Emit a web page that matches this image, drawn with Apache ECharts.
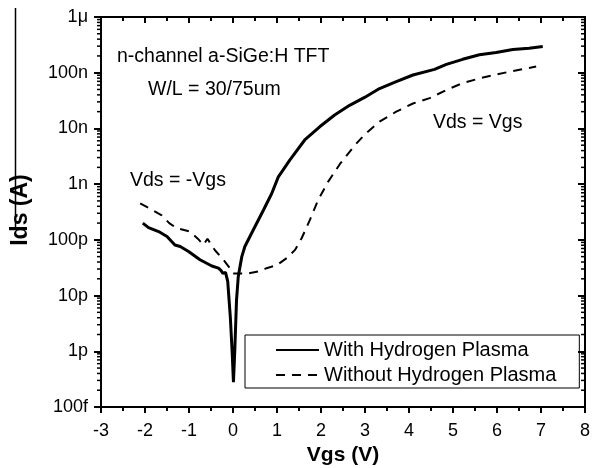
<!DOCTYPE html>
<html>
<head>
<meta charset="utf-8">
<script src="https://cdn.jsdelivr.net/npm/echarts@6/dist/echarts.min.js"></script>
<style>html,body{margin:0;padding:0;background:#fff}#main{width:601px;height:468px}</style>
</head>
<body>
<div id="main"></div>
<script>
// Vgs (V) and Ids (A)
const solidVgs = [-2.05,-1.92,-1.69,-1.50,-1.32,-1.20,-1.01,-0.75,-0.48,-0.33,-0.27,-0.23,-0.17,-0.12,-0.06,-0.02,0.01,0.04,0.08,0.12,0.20,0.27,0.46,0.69,0.88,1.03,1.14,1.29,1.63,1.97,2.31,2.65,2.99,3.33,3.71,4.09,4.58,4.85,5.22,5.60,5.98,6.36,6.73,7.04];
const solidIds = [2.0e-10,1.66e-10,1.41e-10,1.15e-10,8.1e-11,7.6e-11,6.2e-11,4.4e-11,3.4e-11,3.1e-11,2.8e-11,2.5e-11,2.6e-11,1.8e-11,4.0e-12,1.0e-12,2.8e-13,1.0e-12,8.3e-12,2.2e-11,5.0e-11,7.6e-11,1.5e-10,3.4e-10,6.8e-10,1.35e-9,1.8e-9,2.7e-9,6.2e-9,1.07e-8,1.74e-8,2.6e-8,3.6e-8,5.2e-8,6.9e-8,9.1e-8,1.15e-7,1.41e-7,1.74e-7,2.1e-7,2.3e-7,2.6e-7,2.75e-7,2.95e-7];
const dashVgs = [-2.11,-1.85,-1.62,-1.45,-1.28,-0.98,-0.80,-0.67,-0.58,-0.50,-0.41,-0.22,-0.07,0.00,0.23,0.35,0.61,0.76,0.99,1.22,1.41,1.56,1.75,1.93,2.16,2.43,2.77,3.00,3.33,3.71,4.09,4.47,4.85,5.22,5.60,5.98,6.36,6.89];
const dashIds = [4.5e-10,3.5e-10,2.75e-10,2.0e-10,1.62e-10,1.41e-10,1.05e-10,8.1e-11,1.05e-10,8.3e-11,6.5e-11,4.4e-11,3.1e-11,2.5e-11,2.5e-11,2.5e-11,2.75e-11,3.1e-11,3.5e-11,4.7e-11,6.6e-11,1.07e-10,2.3e-10,5.1e-10,1.1e-9,2.3e-9,5.0e-9,7.9e-9,1.32e-8,2.0e-8,2.8e-8,3.5e-8,4.9e-8,6.5e-8,7.9e-8,9.3e-8,1.07e-7,1.29e-7];
const seriesNames = ['With Hydrogen Plasma','Without Hydrogen Plasma'];
const yTickLabels = {'-13':'100f','-12':'1p','-11':'10p','-10':'100p','-9':'1n','-8':'10n','-7':'100n','-6':'1μ'};
const decadeExps = [-13,-12,-11,-10,-9,-8,-7];
const minorMultipliers = [2,3,4,5,6,7,8,9];
const xMin = -3, xMax = 8;

const minorVals = [];
decadeExps.forEach(e => minorMultipliers.forEach(m => minorVals.push([xMin, m * Math.pow(10, e)])));

const FONT = 'Liberation Sans';
const black = '#000';

function lineStyle(w) { return { color: black, width: w }; }
function xAxisCfg(pos, inside) {
  return {
    type: 'value', position: pos, min: xMin, max: xMax, interval: 1,
    axisLine: { show: true, onZero: false, lineStyle: lineStyle(2) },
    axisTick: { show: true, inside: inside, length: 6, lineStyle: lineStyle(2) },
    minorTick: { show: true, splitNumber: 2, length: 4, lineStyle: lineStyle(2) },
    splitLine: { show: false }, minorSplitLine: { show: false }
  };
}
function yAxisCfg(pos, inside) {
  return {
    type: 'log', logBase: 10, position: pos, min: 1e-13, max: 1e-6, interval: 1, splitNumber: 7,
    axisLine: { show: true, onZero: false, lineStyle: lineStyle(2) },
    axisTick: { show: true, inside: inside, length: 7, lineStyle: lineStyle(2) },
    minorTick: { show: false }, splitLine: { show: false }
  };
}

const xBottom = xAxisCfg('bottom', false);
xBottom.axisLabel = { fontFamily: FONT, fontSize: 18, color: black, margin: 15 };
xBottom.name = 'Vgs (V)';
xBottom.nameLocation = 'middle';
xBottom.nameGap = 37;
xBottom.nameTextStyle = { fontFamily: FONT, fontSize: 21, fontWeight: 'bold', color: black };
const xTop = xAxisCfg('top', true);
xTop.axisLabel = { show: false };

const yLeft = yAxisCfg('left', false);
yLeft.axisLabel = {
  fontFamily: FONT, fontSize: 18, color: black, margin: 13,
  formatter: v => yTickLabels[String(Math.round(Math.log10(v)))] || ''
};
yLeft.name = 'Ids (A)';
yLeft.nameLocation = 'middle';
yLeft.nameGap = 69;
yLeft.nameRotate = 90;
yLeft.nameTextStyle = { fontFamily: FONT, fontSize: 23, fontWeight: 'bold', color: black, padding: [0, 0, 0, 4] };
const yRight = yAxisCfg('right', true);
yRight.axisLabel = { show: false };

const chart = echarts.init(document.getElementById('main'));
chart.setOption({
  animation: false,
  backgroundColor: '#fff',
  grid: { left: 101, right: 16, top: 17, bottom: 61, containLabel: false, outerBoundsMode: 'none' },
  legend: {
    data: seriesNames, orient: 'vertical', left: 245, top: 335,
    itemWidth: 43, itemHeight: 14, itemGap: 5,
    padding: [5, 23, 3, 30],
    borderColor: black, borderWidth: 1, borderRadius: 0,
    itemStyle: { opacity: 0, borderWidth: 0 },
    textStyle: { fontFamily: FONT, fontSize: 20, color: black, lineHeight: 20 },
    selectedMode: false
  },
  xAxis: [xBottom, xTop],
  yAxis: [yLeft, yRight],
  series: [
    {
      name: seriesNames[0], type: 'line', xAxisIndex: 0, yAxisIndex: 0,
      data: solidVgs.map((v, i) => [v, solidIds[i]]),
      symbol: 'none', showSymbol: false, smooth: false,
      lineStyle: { color: black, width: 3 }, itemStyle: { color: black }
    },
    {
      name: seriesNames[1], type: 'line', xAxisIndex: 0, yAxisIndex: 0,
      data: dashVgs.map((v, i) => [v, dashIds[i]]),
      symbol: 'none', showSymbol: false, smooth: false,
      lineStyle: { color: black, width: 2, type: [9, 7] }, itemStyle: { color: black }
    },
    {
      name: 'minorLogTicks', type: 'custom', xAxisIndex: 0, yAxisIndex: 0,
      data: minorVals, silent: true, clip: false,
      renderItem: function (params, api) {
        const v = api.value(1);
        const pl = api.coord([xMin, v]);
        const pr = api.coord([xMax, v]);
        return {
          type: 'group', children: [
            { type: 'line', shape: { x1: pl[0] - 4, y1: pl[1], x2: pl[0], y2: pl[1] }, style: { stroke: black, lineWidth: 1.5 } },
            { type: 'line', shape: { x1: pr[0] - 4, y1: pr[1], x2: pr[0], y2: pr[1] }, style: { stroke: black, lineWidth: 1.5 } }
          ]
        };
      }
    }
  ],
  graphic: [
    { type: 'text', left: 117, top: 47, style: { text: 'n-channel a-SiGe:H TFT', fontFamily: FONT, fontSize: 19.5, fill: black } },
    { type: 'text', left: 148, top: 80, style: { text: 'W/L = 30/75um', fontFamily: FONT, fontSize: 19.5, fill: black } },
    { type: 'text', left: 433, top: 113, style: { text: 'Vds = Vgs', fontFamily: FONT, fontSize: 19.5, fill: black } },
    { type: 'text', left: 130, top: 171, style: { text: 'Vds = -Vgs', fontFamily: FONT, fontSize: 19.5, fill: black } },
    { type: 'line', shape: { x1: 15.5, y1: 8, x2: 15.5, y2: 230 }, style: { stroke: black, lineWidth: 1.5 } }
  ]
});
</script>
</body>
</html>
